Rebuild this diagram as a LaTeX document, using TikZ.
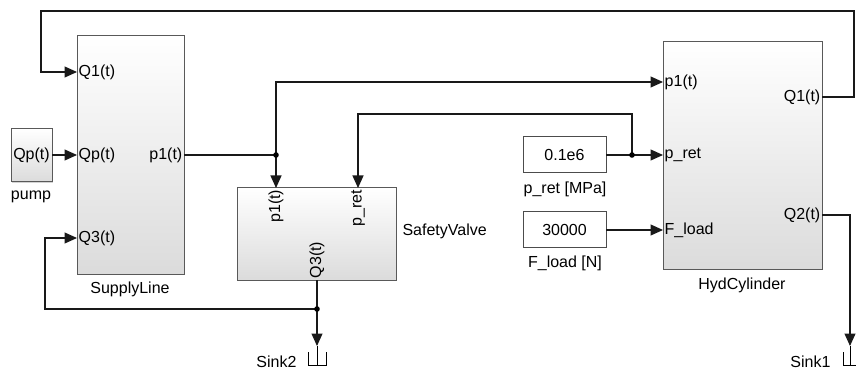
\documentclass[tikz,border=0pt]{standalone}
\usepackage{fontspec}
\setmainfont{Liberation Sans}
\usetikzlibrary{arrows.meta,shadows}
\tikzset{
  block/.style={draw=black!65, line width=1pt, top color=white, bottom color=black!14,
    drop shadow={shadow xshift=1.2pt, shadow yshift=-1.2pt, opacity=0.35},
    inner sep=0pt, outer sep=0pt},
  constbox/.style={draw=black!70, line width=1pt, fill=white, inner sep=0pt, outer sep=0pt,
    minimum width=83pt, minimum height=36pt},
  sig/.style={line width=1.1pt, draw=black!90, -{Triangle[length=12.5pt,width=11pt]}},
  wire/.style={line width=1.1pt, draw=black!90},
  portlbl/.style={inner sep=1.5pt},
  every node/.style={font=\fontsize{16}{19}\selectfont}
}
\begin{document}
\begin{tikzpicture}[x=1pt, y=-1pt]
        \useasboundingbox (0,0) rectangle (856,371);

        % Bloques
        \node[block, minimum width=41pt, minimum height=53pt] (pump) at (31.5,155.5) {Qp(t)};
        \node[block, minimum width=107pt, minimum height=238pt] (supply) at (130.5,155) {};
        \node[block, minimum width=159pt, minimum height=92pt] (valve) at (316.5,234) {};
        \node[block, minimum width=159pt, minimum height=227pt] (cyl) at (742.5,155.5) {};
        \node[constbox] (pret) at (564.5,155) {0.1e6};
        \node[constbox] (fload) at (564.5,230) {30000};

        % Nombres de los bloques
        \node (pumpname) at (31,197) {pump};
        \node (supplyname) at (130,289) {SupplyLine};
        \node[anchor=west] (valvename) at (399,231) {SafetyValve};
        \node (cylname) at (742,285) {HydCylinder};
        \node (pretname) at (565,189) {p\_ret [MPa]};
        \node (floadname) at (565,263) {F\_load [N]};
        \node[anchor=east] (sinkBname) at (300,362) {Sink2};
        \node[anchor=east] (sinkAname) at (834,362) {Sink1};

        % Puertos
        \coordinate (sl-q1) at (77,72);
        \coordinate (sl-qp) at (77,155);
        \coordinate (sl-q3) at (77,238);
        \coordinate (sl-p1) at (184,155);
        \coordinate (pump-out) at (52,155);
        \coordinate (sv-p1) at (276,188);
        \coordinate (sv-pret) at (358,188);
        \coordinate (sv-q3) at (317,280);
        \coordinate (hc-p1) at (663,82);
        \coordinate (hc-pret) at (663,155);
        \coordinate (hc-fload) at (663,230);
        \coordinate (hc-q1) at (822,97);
        \coordinate (hc-q2) at (822,215);
        \coordinate (pret-out) at (606,155);
        \coordinate (fload-out) at (606,230);

        % Etiquetas de puertos
        \node[portlbl, anchor=west] (lq1) at (sl-q1) {Q1(t)};
        \node[portlbl, anchor=west] (lqp) at (sl-qp) {Qp(t)};
        \node[portlbl, anchor=west] (lq3) at (sl-q3) {Q3(t)};
        \node[portlbl, anchor=east] (lp1) at (sl-p1) {p1(t)};
        \node[portlbl, rotate=90, anchor=east] (vp1) at (sv-p1) {p1(t)};
        \node[portlbl, rotate=90, anchor=east] (vpret) at (sv-pret) {p\_ret};
        \node[portlbl, rotate=90, anchor=west] (vq3) at (sv-q3) {Q3(t)};
        \node[portlbl, anchor=west] (cp1) at (hc-p1) {p1(t)};
        \node[portlbl, anchor=west] (cpret) at (hc-pret) {p\_ret};
        \node[portlbl, anchor=west] (cfload) at (hc-fload) {F\_load};
        \node[portlbl, anchor=east] (cq1) at (hc-q1) {Q1(t)};
        \node[portlbl, anchor=east] (cq2) at (hc-q2) {Q2(t)};

        % Puntos de ramificacion y esquinas
        \coordinate (j1) at (276,155);
        \coordinate (j2) at (317,309);
        \coordinate (j3) at (632,155);
        \coordinate (topR) at (854,11);
        \coordinate (topL) at (41,11);
        \coordinate (retbend) at (358,114);
        \coordinate (botL) at (45,309);
        \coordinate (sinkB) at (317,346);
        \coordinate (sinkA) at (850,346);

        % Senales
        \draw[sig] (pump-out) -- (sl-qp);
        \draw[wire] (sl-p1) -- (j1);
        \draw[sig] (j1) |- (hc-p1);
        \draw[sig] (j1) -- (sv-p1);
        \draw[sig] (pret-out) -- (hc-pret);
        \draw[sig] (j3) |- (retbend) -- (sv-pret);
        \draw[sig] (fload-out) -- (hc-fload);
        \draw[sig] (hc-q1) -| (topR) -- (topL) |- (sl-q1);
        \draw[sig] (sv-q3) -- (j2) -- (sinkB);
        \draw[sig] (j2) -- (botL) |- (sl-q3);
        \draw[sig] (hc-q2) -| (sinkA);

        \fill (j1) circle (2.8pt);
        \fill (j2) circle (2.8pt);
        \fill (j3) circle (2.8pt);

        % Sumideros
        \draw[line width=0.9pt] (sinkB) ++(-9,6) -- ++(0,13) -- ++(18,0) -- ++(0,-13);
        \draw[line width=0.9pt] (sinkB) -- ++(0,19);
        \draw[line width=0.9pt] (sinkA) ++(-7,6) -- ++(0,13) -- ++(14,0) -- ++(0,-13);
        \draw[line width=0.9pt] (sinkA) -- ++(0,19);
    \end{tikzpicture}
\end{document}
